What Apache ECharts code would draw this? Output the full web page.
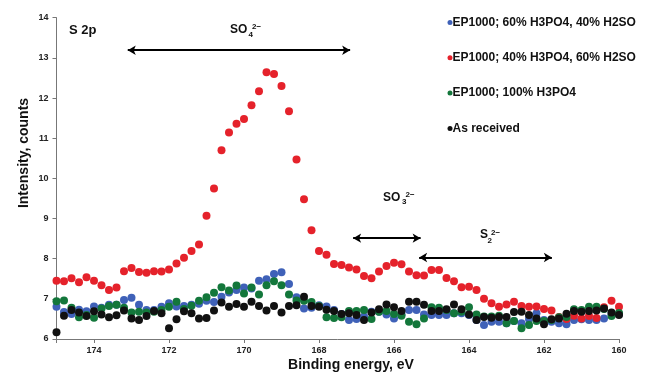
<!DOCTYPE html>
<html><head><meta charset="utf-8">
<script src="https://cdn.jsdelivr.net/npm/echarts@6/dist/echarts.min.js"></script>
<style>html,body{margin:0;padding:0;background:#fff}#c{width:647px;height:374px}</style>
</head><body><div id="c"></div>
<script>
const energy = [
175.0,174.8,174.6,174.4,174.2,174.0,173.8,173.6,173.4,173.2,
173.0,172.8,172.6,172.4,172.2,172.0,171.8,171.6,171.4,171.2,
171.0,170.8,170.6,170.4,170.2,170.0,169.8,169.6,169.4,169.2,
169.0,168.8,168.6,168.4,168.2,168.0,167.8,167.6,167.4,167.2,
167.0,166.8,166.6,166.4,166.2,166.0,165.8,165.6,165.4,165.2,
165.0,164.8,164.6,164.4,164.2,164.0,163.8,163.6,163.4,163.2,
163.0,162.8,162.6,162.4,162.2,162.0,161.8,161.6,161.4,161.2,
161.0,160.8,160.6,160.4,160.2,160.0];

const seriesNames = ['EP1000; 60% H3PO4, 40% H2SO4','EP1000; 40% H3PO4, 60% H2SO4','EP1000; 100% H3PO4','As received'];

const blue = [
6.80,6.67,6.62,6.73,6.69,6.81,6.78,6.85,6.85,6.97,
7.03,6.85,6.72,6.72,6.80,6.89,6.81,6.82,6.85,6.88,
6.95,6.92,7.05,7.16,7.22,7.28,7.26,7.45,7.49,7.62,
7.66,7.37,7.04,6.76,6.78,6.84,6.81,6.72,6.62,6.47,
6.50,6.56,6.68,6.68,6.61,6.51,6.61,6.72,6.72,6.61,
6.60,6.60,6.60,6.64,6.64,6.60,6.47,6.35,6.43,6.43,
6.39,6.45,6.39,6.50,6.64,6.47,6.43,6.39,6.37,6.47,
6.49,6.47,6.47,6.51,6.62,6.62];

const red = [
7.45,7.44,7.51,7.41,7.54,7.45,7.34,7.22,7.28,7.69,
7.77,7.67,7.65,7.69,7.68,7.73,7.88,8.02,8.19,8.35,
9.07,9.75,10.70,11.14,11.36,11.48,11.82,12.17,12.64,12.60,
12.30,11.67,10.47,9.48,8.71,8.19,8.10,7.87,7.84,7.78,
7.73,7.57,7.51,7.68,7.82,7.90,7.86,7.68,7.59,7.58,
7.72,7.72,7.52,7.44,7.29,7.30,7.22,7.00,6.89,6.80,
6.86,6.93,6.82,6.80,6.81,6.75,6.71,6.55,6.50,6.58,
6.51,6.57,6.52,6.79,6.95,6.80];

const green = [
6.94,6.96,6.78,6.54,6.60,6.53,6.76,6.82,6.85,6.78,
6.66,6.68,6.66,6.68,6.72,6.80,6.93,6.75,6.83,6.95,
7.04,7.15,7.29,7.21,7.33,7.13,7.28,7.11,7.34,7.44,
7.34,7.11,6.96,6.95,6.92,6.82,6.54,6.52,6.54,6.70,
6.70,6.72,6.50,6.68,6.70,6.62,6.58,6.43,6.37,6.51,
6.79,6.78,6.72,6.64,6.68,6.79,6.61,6.56,6.56,6.58,
6.39,6.45,6.27,6.35,6.45,6.45,6.47,6.54,6.55,6.74,
6.72,6.80,6.80,6.75,6.57,6.65];

const black = [
6.17,6.58,6.72,6.66,6.57,6.69,6.61,6.54,6.59,6.71,
6.51,6.47,6.57,6.70,6.64,6.27,6.49,6.69,6.64,6.51,
6.52,6.71,6.91,6.80,6.87,6.80,6.93,6.82,6.71,6.82,
6.66,6.82,6.84,7.05,6.82,6.80,6.73,6.70,6.62,6.64,
6.60,6.47,6.66,6.74,6.86,6.79,6.70,6.93,6.93,6.85,
6.70,6.70,6.74,6.86,6.74,6.61,6.47,6.55,6.53,6.55,
6.55,6.67,6.68,6.60,6.51,6.37,6.49,6.51,6.63,6.70,
6.68,6.70,6.71,6.76,6.66,6.60];

// annotation arrows: [fromEnergy, toEnergy, intensity]
const arrows = [[173.1,167.17,13.19],[167.09,165.29,8.51],[165.33,161.79,8.03]];

const colors = ['#3f61b8','#e5222b','#13773b','#111111'];
const allData = [blue, red, green, black];
const FONT = 'Liberation Sans, Arial, sans-serif';

const chart = echarts.init(document.getElementById('c'), null, {renderer:'canvas'});

const series = allData.map((vals, k) => ({
  name: seriesNames[k],
  type: 'scatter',
  symbol: 'circle',
  symbolSize: 8,
  itemStyle: {color: colors[k], opacity: 1},
  data: vals.map((v, i) => [energy[i], v]),
  silent: true,
  z: 2 + k
}));
series[3].markLine = {
  silent: true,
  symbol: ['arrow','arrow'],
  symbolSize: [7,8],
  lineStyle: {color:'#000', width: 2, type:'solid'},
  label: {show:false},
  emphasis: {disabled: true},
  data: arrows.map(a => [{coord:[a[0],a[2]]},{coord:[a[1],a[2]]}])
};

function txt(text, x, y, size, align) {
  return {
    type:'text', z: 100,
    style:{text, x, y, font:'bold '+size+'px '+FONT, fill:'#111', align: align||'left', verticalAlign:'middle'}
  };
}

chart.setOption({
  animation: false,
  backgroundColor: '#fff',
  grid: {left: 56.5, right: 28, top: 17.7, bottom: 35, outerBoundsMode: 'none'},
  legend: {
    orient: 'vertical', left: 442.5, top: 11.5,
    icon: 'circle', itemWidth: 5, itemHeight: 5, itemGap: 23.3,
    textStyle: {fontFamily: FONT, fontWeight:'bold', fontSize: 12, color:'#111', padding:[0,0,0,-5]},
    data: seriesNames, selectedMode: false
  },
  xAxis: {
    type:'value', inverse: true, min: 160, max: 175, interval: 2,
    axisLine: {show:true, lineStyle:{color:'#777', width:1}},
    axisTick: {show:true, length:4, lineStyle:{color:'#777'}},
    splitLine: {show:false},
    axisLabel: {fontFamily: FONT, fontWeight:'bold', fontSize: 9, color:'#222', margin: 7,
      formatter: v => (v === 175 ? '' : String(v))}
  },
  yAxis: {
    type:'value', min: 6, max: 14, interval: 1,
    axisLine: {show:true, lineStyle:{color:'#777', width:1}},
    axisTick: {show:true, length:4, lineStyle:{color:'#777'}},
    splitLine: {show:false},
    axisLabel: {fontFamily: FONT, fontWeight:'bold', fontSize: 9, color:'#222', margin: 8}
  },
  series,
  graphic: [
    txt('S 2p', 69, 30, 13),
    txt('SO', 230, 30, 12), txt('4', 248.5, 34.5, 8), txt('2\u2212', 252, 27, 8),
    txt('SO', 383, 197.5, 12), txt('3', 402, 201.5, 8), txt('2\u2212', 405.5, 194.5, 8),
    txt('S', 480, 235, 12), txt('2', 487.5, 241, 8), txt('2\u2212', 491, 233, 8),
    txt('Binding energy, eV', 351, 365, 14, 'center'),
    {type:'text', z:100, x:24, y:153, rotation: Math.PI/2,
      style:{text:'Intensity, counts', x:0, y:0, font:'bold 14px '+FONT, fill:'#111', align:'center', verticalAlign:'middle'}},
    {type:'rect', z:200, shape:{x:636, y:0, width:11, height:150}, style:{fill:'#fff'}}
  ]
});
</script></body></html>
